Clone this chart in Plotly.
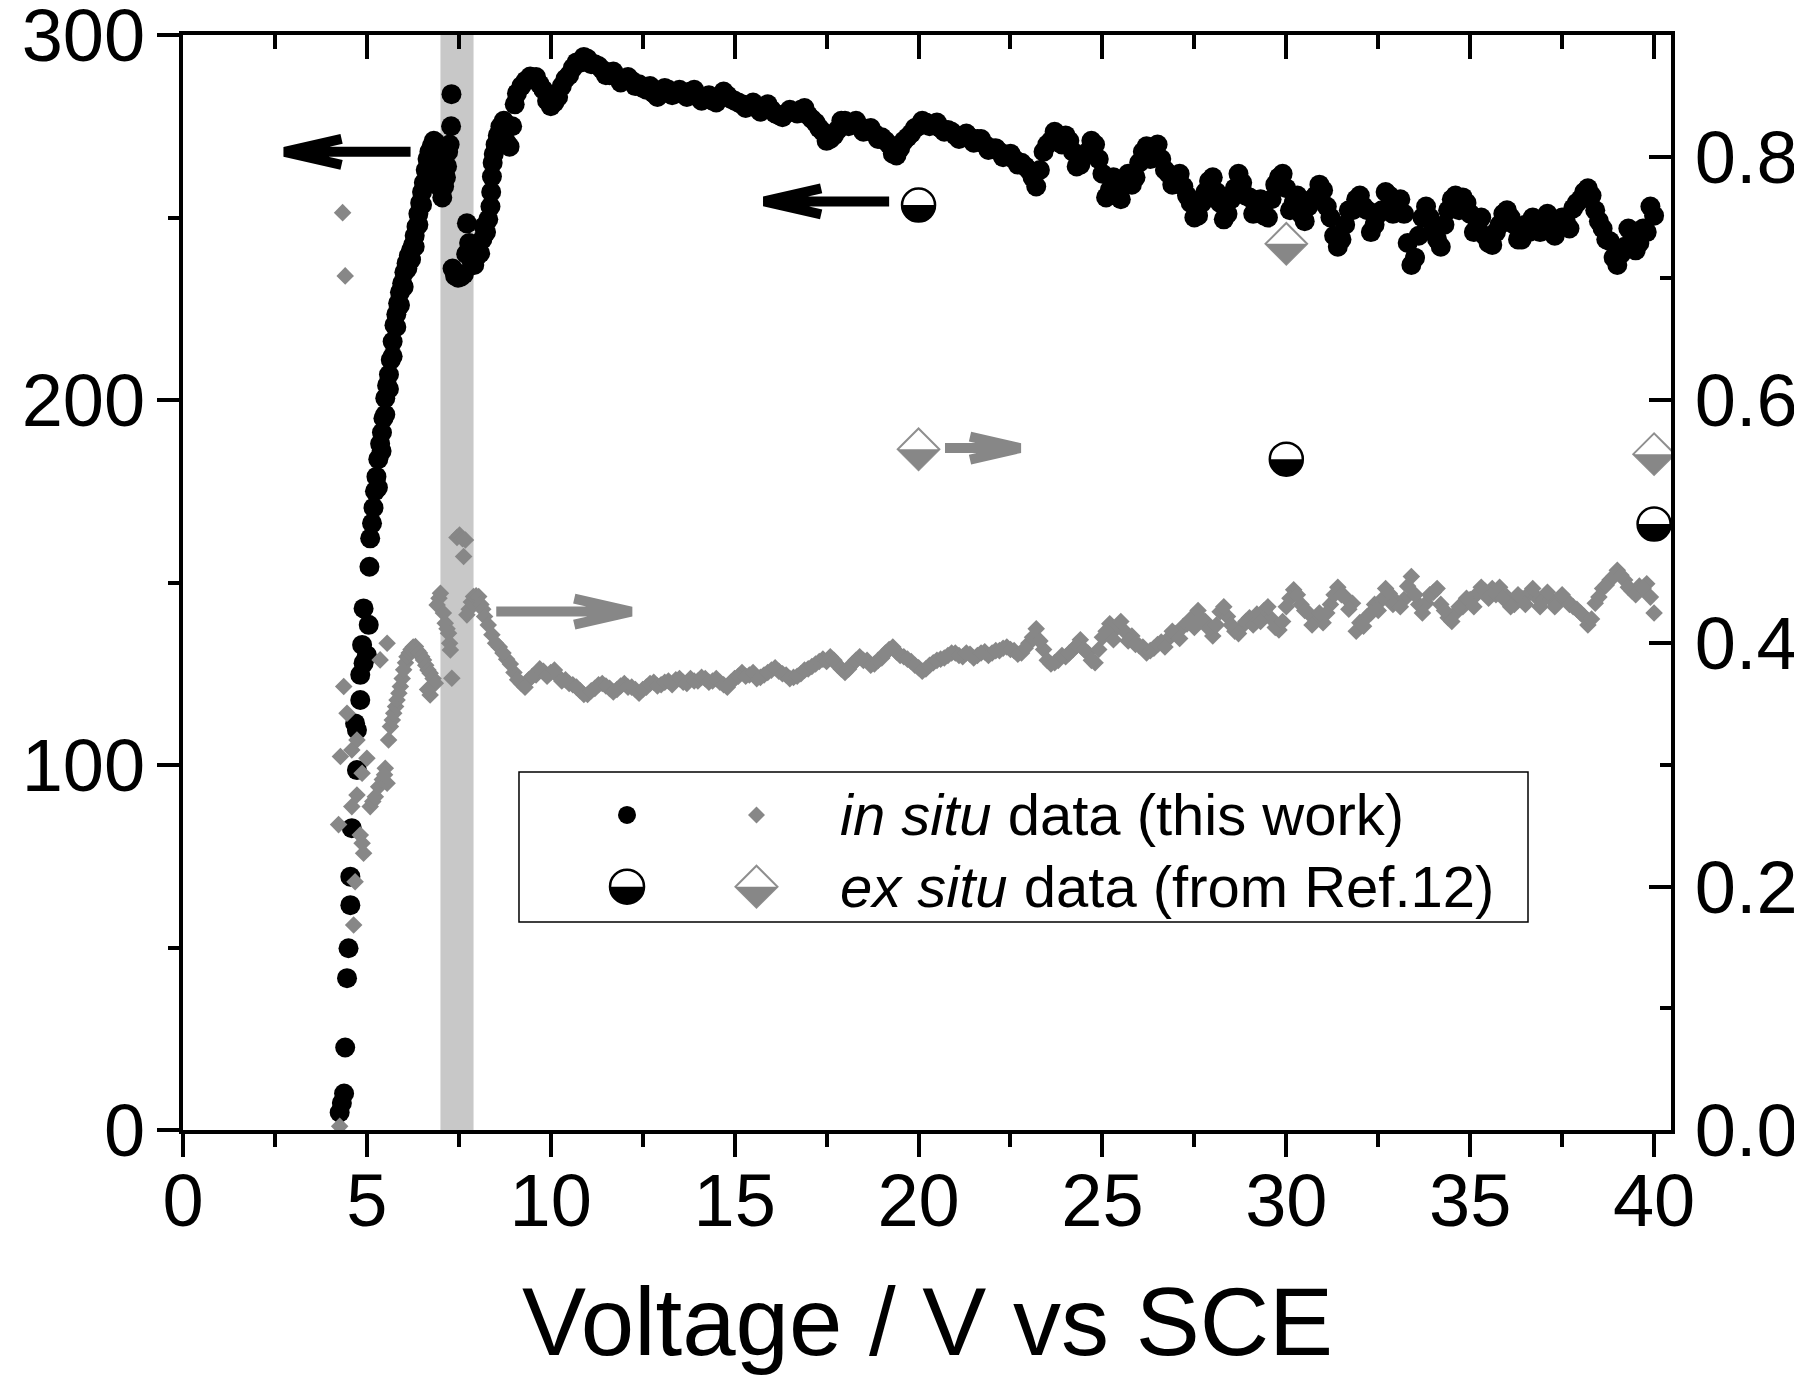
import plotly.graph_objects as go

# ---------------- data ----------------
# in situ, left axis (black circles): rising part + transition
black_rise_v = [4.26, 4.32, 4.38, 4.41, 4.46, 4.50, 4.55, 4.55, 4.59, 4.73,
                4.68, 4.73, 4.82, 4.82, 4.91, 5.00, 4.87, 5.05, 4.91, 5.07,
                5.09, 5.14, 5.18, 5.22, 5.26, 5.31, 5.36, 5.41, 5.45, 5.50,
                5.55, 5.60, 5.65, 5.70, 5.75, 5.80, 5.85, 5.90, 5.96, 6.02,
                6.08, 6.14, 6.20, 6.26, 6.30, 6.35, 6.40, 6.45, 6.50, 6.55,
                6.60, 6.65, 6.70, 6.76, 6.82, 6.87, 6.92, 6.96, 7.00, 7.05,
                6.95, 7.02, 7.10, 7.15, 7.18, 7.21, 7.25, 7.29, 7.30, 7.33,
                7.40, 7.48, 7.56, 7.64, 7.70, 7.72, 7.78, 7.84, 7.92, 8.00,
                8.08, 8.14, 8.18, 8.24, 8.30, 8.36, 8.38, 8.40, 8.42, 8.45,
                8.50, 8.56, 8.63, 8.72, 8.80, 8.88, 8.95, 9.02, 9.08, 9.20,
                9.32, 9.44,
                5.30, 5.40, 5.50, 5.60, 5.70, 5.80, 5.90, 6.00, 6.10, 6.20,
                6.30, 6.40, 6.50, 6.60, 6.70]
black_rise_r = [4.8, 7.4, 10.0, 22.6, 41.6, 49.8, 61.6, 69.4, 82.7, 98.6,
                111.4, 109.6, 117.8, 124.7, 127.9, 130.1, 132.9, 138.4, 142.9, 154.3,
                162.1, 166.2, 170.5, 175.0, 179.0, 183.8, 188.0, 191.1, 195.0, 200.5,
                204.0, 207.0, 211.0, 216.0, 220.5, 223.5, 226.5, 229.5, 232.0, 235.0,
                237.5, 239.5, 241.0, 242.5, 245.0, 247.5, 251.0, 254.0, 257.0, 259.5,
                263.0, 266.0, 268.0, 269.5, 271.0, 270.5, 267.0, 262.0, 258.0, 255.5,
                265.0, 261.0, 258.5, 261.0, 264.0, 268.0, 270.0, 275.0, 283.8, 236.0,
                234.0, 233.5, 233.8, 234.5, 240.0, 248.4, 243.0, 238.4, 237.0, 239.5,
                240.2, 244.0, 247.5, 246.0, 249.5, 253.0, 257.0, 261.2, 265.0, 267.4,
                270.0, 272.5, 274.9, 276.5, 270.5, 269.4, 275.0, 281.0, 284.0, 286.0,
                287.5, 288.6,
                176.0, 186.0, 196.0, 203.0, 212.0, 220.0, 226.0, 231.0, 236.0, 238.5,
                242.0, 248.0, 253.5, 260.0, 265.0]

# in situ, left axis: main part
black_main_v = [9.6, 9.8, 10.0, 10.2, 10.4, 10.6, 10.8, 11.0, 11.2, 11.4,
                11.6, 11.8, 12.0, 12.2, 12.4, 12.6, 12.8, 13.0, 13.2, 13.4,
                13.6, 13.8, 14.0, 14.2, 14.4, 14.6, 14.8, 15.0, 15.2, 15.4,
                15.6, 15.8, 16.0, 16.2, 16.4, 16.6, 16.8, 17.0, 17.2, 17.4,
                17.6, 17.8, 18.0, 18.2, 18.4, 18.6, 18.8, 19.0, 19.2, 19.4,
                19.6, 19.8, 20.0, 20.2, 20.4, 20.6, 20.8, 21.0, 21.2, 21.4,
                21.6, 21.8, 22.0, 22.2, 22.4, 22.6, 22.8, 23.0, 23.2, 23.4,
                23.6, 23.8, 24.0, 24.2, 24.4, 24.6, 24.8, 25.0, 25.2, 25.4,
                25.6, 25.8, 26.0, 26.2, 26.4, 26.6, 26.8, 27.0, 27.2, 27.4,
                27.6, 27.8, 28.0, 28.2, 28.4, 28.6, 28.8, 29.0, 29.2, 29.4,
                29.6, 29.8, 30.0, 30.2, 30.4, 30.6, 30.8, 31.0, 31.2, 31.4,
                31.6, 31.8, 32.0, 32.2, 32.4, 32.6, 32.8, 33.0, 33.2, 33.4,
                33.6, 33.8, 34.0, 34.2, 34.4, 34.6, 34.8, 35.0, 35.2, 35.4,
                35.6, 35.8, 36.0, 36.2, 36.4, 36.6, 36.8, 37.0, 37.2, 37.4,
                37.6, 37.8, 38.0, 38.2, 38.4, 38.6, 38.8, 39.0, 39.2, 39.4,
                39.6, 39.8, 40.0]
black_main_r = [288.5, 285.0, 280.5, 283.0, 288.0, 291.0, 292.5, 293.5, 292.0, 290.5,
                289.0, 288.5, 288.0, 287.5, 286.5, 285.0, 284.0, 284.5, 285.0, 284.0,
                284.0, 284.5, 283.0, 282.5, 282.0, 283.0, 283.5, 282.0, 281.0, 280.5,
                280.0, 280.5, 279.5, 278.0, 278.5, 279.0, 279.5, 278.0, 276.0, 273.5,
                271.5, 274.0, 276.5, 275.5, 275.0, 274.0, 273.0, 272.0, 270.0, 267.0,
                271.0, 273.0, 275.0, 276.0, 275.5, 274.5, 274.0, 272.5, 272.0, 272.0,
                271.5, 270.0, 269.0, 268.0, 267.0, 266.0, 265.0, 263.0, 258.5, 268.0,
                271.0, 272.5, 272.5, 268.0, 264.5, 268.0, 270.0, 262.0, 257.5, 258.0,
                259.5, 259.0, 265.0, 269.5, 268.0, 266.0, 262.0, 260.0, 258.5, 254.0,
                250.5, 257.0, 261.0, 254.0, 251.0, 258.0, 259.5, 255.5, 253.0, 250.5,
                255.0, 261.0, 258.0, 254.0, 251.0, 253.0, 256.0, 257.5, 250.0, 242.0,
                248.0, 252.0, 256.0, 252.0, 248.0, 252.0, 256.0, 254.0, 251.0, 237.0,
                245.0, 253.0, 247.0, 242.0, 252.0, 256.0, 255.5, 251.0, 248.0, 245.0,
                242.5, 248.0, 252.0, 248.0, 244.0, 246.0, 249.0, 249.0, 248.0, 247.5,
                249.0, 252.5, 255.0, 258.0, 252.0, 247.0, 243.5, 237.0, 242.0, 245.5,
                243.0, 246.0, 250.5]

# in situ, left axis: in-between scatter points
black_mid_v = [9.7, 9.9, 10.1, 10.3, 10.5, 10.7, 10.9, 11.1, 11.3, 11.5,
               11.7, 11.9, 12.1, 12.3, 12.5, 12.7, 12.9, 13.1, 13.3, 13.5,
               13.7, 13.9, 14.1, 14.3, 14.5, 14.7, 14.9, 15.1, 15.3, 15.5,
               15.7, 15.9, 16.1, 16.3, 16.5, 16.7, 16.9, 17.1, 17.3, 17.5,
               17.7, 17.9, 18.1, 18.3, 18.5, 18.7, 18.9, 19.1, 19.3, 19.5,
               19.7, 19.9, 20.1, 20.3, 20.5, 20.7, 20.9, 21.1, 21.3, 21.5,
               21.7, 21.9, 22.1, 22.3, 22.5, 22.7, 22.9]
black_mid_r = [286.5, 282.0, 281.5, 286.0, 289.0, 292.5, 294.0, 292.0, 291.5, 289.0,
               290.0, 287.0, 288.5, 286.0, 285.5, 286.0, 283.0, 285.5, 283.5, 285.0,
               283.0, 285.0, 282.0, 283.5, 281.5, 284.5, 282.5, 281.5, 280.0, 281.5,
               279.0, 281.0, 278.5, 277.5, 279.5, 278.5, 280.0, 277.0, 274.5, 271.0,
               272.5, 276.5, 275.0, 276.5, 273.5, 274.5, 271.5, 271.0, 267.5, 269.0,
               272.0, 274.5, 276.5, 275.0, 276.0, 273.5, 273.5, 271.5, 273.0, 270.5,
               271.5, 268.5, 269.0, 266.5, 267.5, 264.5, 264.0]

# in situ, left axis: extra scatter points in the noisy region
black_noise_v = [23.1, 23.3, 23.5, 23.7, 23.9, 24.1, 24.3, 24.5, 24.7, 24.9,
                 25.1, 25.3, 25.5, 25.7, 25.9, 26.1, 26.3, 26.5, 26.7, 26.9,
                 27.1, 27.3, 27.5, 27.7, 27.9, 28.1, 28.3, 28.5, 28.7, 28.9,
                 29.1, 29.3, 29.5, 29.7, 29.9, 30.1, 30.3, 30.5, 30.7, 30.9,
                 31.1, 31.3, 31.5, 31.7, 31.9, 32.1, 32.3, 32.5, 32.7, 32.9,
                 33.1, 33.3, 33.5, 33.7, 33.9, 34.1, 34.3, 34.5, 34.7, 34.9,
                 35.1, 35.3, 35.5, 35.7, 35.9, 36.1, 36.3, 36.5, 36.7, 36.9,
                 37.1, 37.3, 37.5, 37.7, 37.9, 38.1, 38.3, 38.5, 38.7, 38.9,
                 39.1, 39.3, 39.5, 39.7, 39.9]
black_noise_r = [261.0, 263.0, 270.0, 273.5, 270.0, 271.0, 264.0, 267.0, 271.0, 266.0,
                 255.5, 261.0, 255.0, 262.0, 261.0, 268.0, 266.0, 270.0, 263.0, 259.0,
                 262.0, 256.0, 250.0, 254.0, 260.0, 257.0, 249.5, 255.0, 262.0, 256.0,
                 251.0, 255.0, 250.0, 259.0, 262.0, 252.0, 256.0, 249.0, 255.0, 259.0,
                 253.0, 245.0, 244.0, 252.0, 255.0, 253.0, 246.0, 251.0, 257.0, 251.0,
                 255.0, 243.0, 239.0, 250.0, 250.0, 244.0, 248.0, 255.0, 252.0, 254.0,
                 246.0, 250.0, 243.0, 246.0, 251.0, 250.0, 244.0, 248.0, 250.0, 246.0,
                 251.0, 245.0, 250.0, 247.0, 254.0, 257.0, 256.0, 249.0, 244.0, 239.0,
                 240.0, 247.0, 241.0, 247.0, 253.0]

# in situ, right axis (grey diamonds): early part
gray_early_v = [4.26, 4.34, 4.41, 4.23, 4.28, 4.37, 4.46, 4.59, 4.73, 5.00,
                4.87, 4.73, 4.59, 4.82, 4.87, 4.91, 4.68, 4.64, 5.09, 5.16,
                5.23, 5.32, 5.42, 5.50, 5.55, 5.48, 5.36, 5.55, 5.59, 5.64,
                5.69, 5.73, 5.78, 5.82, 5.87, 5.91, 5.96, 6.00, 6.05, 6.09,
                6.15, 6.20, 6.26, 6.32, 6.38, 6.43, 6.49, 6.54, 6.60, 6.66,
                6.72, 6.80, 6.86, 6.72, 6.65, 6.91, 6.96, 7.00, 7.08, 7.13,
                7.18, 7.22, 7.25, 7.27, 7.31, 7.45, 7.52, 7.60, 7.68, 7.63,
                7.72, 7.78, 7.84, 7.90, 7.97, 8.04, 8.10, 8.15]
gray_early_r = [0.003, 0.754, 0.702, 0.251, 0.307, 0.3645, 0.3426, 0.3124, 0.3206, 0.3055,
                0.2932, 0.2754, 0.2658, 0.2425, 0.2357, 0.2275, 0.2041, 0.1685, 0.2658, 0.270,
                0.274, 0.2822, 0.288, 0.2973, 0.285, 0.292, 0.3864, 0.4001, 0.3206, 0.3316,
                0.337, 0.3426, 0.348, 0.3535, 0.359, 0.3645, 0.371, 0.3782, 0.384, 0.389,
                0.392, 0.395, 0.397, 0.3973, 0.394, 0.392, 0.389, 0.3864, 0.382, 0.378,
                0.3754, 0.371, 0.3672, 0.3576, 0.362, 0.4316, 0.437, 0.4412, 0.425, 0.4166,
                0.412, 0.4083, 0.400, 0.3946, 0.3713, 0.487, 0.489, 0.486, 0.485, 0.4713,
                0.4234, 0.428, 0.434, 0.4384, 0.439, 0.4384, 0.432, 0.428]

# in situ, right axis: main part
gray_main_v = [8.2, 8.4, 8.6, 8.8, 9.0, 9.2, 9.4, 9.6, 9.8, 10.0,
               10.2, 10.4, 10.6, 10.8, 11.0, 11.2, 11.4, 11.6, 11.8, 12.0,
               12.2, 12.4, 12.6, 12.8, 13.0, 13.2, 13.4, 13.6, 13.8, 14.0,
               14.2, 14.4, 14.6, 14.8, 15.0, 15.2, 15.4, 15.6, 15.8, 16.0,
               16.2, 16.4, 16.6, 16.8, 17.0, 17.2, 17.4, 17.6, 17.8, 18.0,
               18.2, 18.4, 18.6, 18.8, 19.0, 19.2, 19.4, 19.6, 19.8, 20.0,
               20.2, 20.4, 20.6, 20.8, 21.0, 21.2, 21.4, 21.6, 21.8, 22.0,
               22.2, 22.4, 22.6, 22.8, 23.0, 23.2, 23.4, 23.6, 23.8, 24.0,
               24.2, 24.4, 24.6, 24.8, 25.0, 25.2, 25.4, 25.6, 25.8, 26.0,
               26.2, 26.4, 26.6, 26.8, 27.0, 27.2, 27.4, 27.6, 27.8, 28.0,
               28.2, 28.4, 28.6, 28.8, 29.0, 29.2, 29.4, 29.6, 29.8, 30.0,
               30.2, 30.4, 30.6, 30.8, 31.0, 31.2, 31.4, 31.6, 31.8, 32.0,
               32.2, 32.4, 32.6, 32.8, 33.0, 33.2, 33.4, 33.6, 33.8, 34.0,
               34.2, 34.4, 34.6, 34.8, 35.0, 35.2, 35.4, 35.6, 35.8, 36.0,
               36.2, 36.4, 36.6, 36.8, 37.0, 37.2, 37.4, 37.6, 37.8, 38.0,
               38.2, 38.4, 38.6, 38.8, 39.0, 39.2, 39.4, 39.6, 39.8, 40.0]
gray_main_r = [0.422, 0.407, 0.397, 0.387, 0.376, 0.367, 0.370, 0.374, 0.377, 0.376,
               0.373, 0.370, 0.366, 0.361, 0.358, 0.363, 0.367, 0.363, 0.362, 0.367,
               0.364, 0.359, 0.364, 0.368, 0.366, 0.369, 0.370, 0.368, 0.371, 0.369,
               0.371, 0.369, 0.368, 0.364, 0.371, 0.376, 0.374, 0.371, 0.374, 0.378,
               0.377, 0.374, 0.372, 0.375, 0.379, 0.383, 0.387, 0.389, 0.382, 0.376,
               0.383, 0.389, 0.386, 0.383, 0.388, 0.395, 0.393, 0.389, 0.385, 0.380,
               0.379, 0.384, 0.387, 0.390, 0.392, 0.389, 0.391, 0.390, 0.393, 0.392,
               0.394, 0.397, 0.394, 0.392, 0.400, 0.412, 0.395, 0.383, 0.386, 0.389,
               0.395, 0.403, 0.392, 0.384, 0.405, 0.416, 0.413, 0.410, 0.406, 0.398,
               0.392, 0.396, 0.401, 0.404, 0.408, 0.414, 0.420, 0.427, 0.418, 0.406,
               0.426, 0.422, 0.410, 0.414, 0.421, 0.424, 0.427, 0.420, 0.411, 0.430,
               0.444, 0.432, 0.425, 0.420, 0.417, 0.432, 0.446, 0.438, 0.433, 0.417,
               0.422, 0.432, 0.436, 0.441, 0.434, 0.436, 0.455, 0.432, 0.433, 0.442,
               0.432, 0.421, 0.425, 0.430, 0.436, 0.441, 0.443, 0.445, 0.446, 0.438,
               0.432, 0.437, 0.441, 0.438, 0.436, 0.436, 0.435, 0.436, 0.430, 0.425,
               0.415, 0.433, 0.445, 0.452, 0.460, 0.452, 0.443, 0.447, 0.449, 0.425]

# in situ, right axis: in-between scatter points
gray_mid_v = [8.3, 8.5, 8.7, 8.9, 9.1, 9.3, 9.5, 9.7, 9.9, 10.1,
              10.3, 10.5, 10.7, 10.9, 11.1, 11.3, 11.5, 11.7, 11.9, 12.1,
              12.3, 12.5, 12.7, 12.9, 13.1, 13.3, 13.5, 13.7, 13.9, 14.1,
              14.3, 14.5, 14.7, 14.9, 15.1, 15.3, 15.5, 15.7, 15.9, 16.1,
              16.3, 16.5, 16.7, 16.9, 17.1, 17.3, 17.5, 17.7, 17.9, 18.1,
              18.3, 18.5, 18.7, 18.9, 19.1, 19.3, 19.5, 19.7, 19.9, 20.1,
              20.3, 20.5, 20.7, 20.9, 21.1, 21.3, 21.5, 21.7, 21.9, 22.1,
              22.3, 22.5, 22.7, 22.9]
gray_mid_r = [0.415, 0.400, 0.392, 0.383, 0.370, 0.364, 0.373, 0.379, 0.373, 0.378,
              0.369, 0.367, 0.364, 0.358, 0.361, 0.366, 0.365, 0.360, 0.365, 0.364,
              0.362, 0.362, 0.367, 0.365, 0.368, 0.366, 0.371, 0.367, 0.369, 0.372,
              0.368, 0.371, 0.366, 0.368, 0.373, 0.373, 0.376, 0.372, 0.376, 0.380,
              0.375, 0.371, 0.373, 0.378, 0.381, 0.385, 0.385, 0.386, 0.379, 0.379,
              0.386, 0.386, 0.382, 0.386, 0.392, 0.397, 0.390, 0.387, 0.382, 0.377,
              0.382, 0.386, 0.388, 0.392, 0.390, 0.392, 0.388, 0.392, 0.390, 0.394,
              0.396, 0.395, 0.391, 0.396]

# in situ, right axis: extra scatter points in the noisy region
gray_noise_v = [23.1, 23.3, 23.5, 23.7, 23.9, 24.1, 24.3, 24.5, 24.7, 24.9,
                25.1, 25.3, 25.5, 25.7, 25.9, 26.1, 26.3, 26.5, 26.7, 26.9,
                27.1, 27.3, 27.5, 27.7, 27.9, 28.1, 28.3, 28.5, 28.7, 28.9,
                29.1, 29.3, 29.5, 29.7, 29.9, 30.1, 30.3, 30.5, 30.7, 30.9,
                31.1, 31.3, 31.5, 31.7, 31.9, 32.1, 32.3, 32.5, 32.7, 32.9,
                33.1, 33.3, 33.5, 33.7, 33.9, 34.1, 34.3, 34.5, 34.7, 34.9,
                35.1, 35.3, 35.5, 35.7, 35.9, 36.1, 36.3, 36.5, 36.7, 36.9,
                37.1, 37.3, 37.5, 37.7, 37.9, 38.1, 38.3, 38.5, 38.7, 38.9,
                39.1, 39.3, 39.5, 39.7, 39.9]
gray_noise_r = [0.405, 0.402, 0.386, 0.384, 0.390, 0.392, 0.398, 0.395, 0.386, 0.395,
                0.410, 0.403, 0.418, 0.402, 0.399, 0.397, 0.394, 0.399, 0.397, 0.410,
                0.404, 0.416, 0.413, 0.420, 0.412, 0.415, 0.430, 0.415, 0.408, 0.418,
                0.415, 0.418, 0.430, 0.413, 0.418, 0.437, 0.440, 0.427, 0.415, 0.425,
                0.425, 0.440, 0.440, 0.428, 0.410, 0.414, 0.425, 0.427, 0.445, 0.432,
                0.430, 0.447, 0.440, 0.425, 0.440, 0.445, 0.427, 0.418, 0.430, 0.437,
                0.430, 0.446, 0.437, 0.440, 0.437, 0.430, 0.440, 0.432, 0.445, 0.430,
                0.442, 0.430, 0.440, 0.432, 0.428, 0.422, 0.420, 0.438, 0.448, 0.455,
                0.456, 0.446, 0.440, 0.445, 0.438]

# ex situ data (from Ref.12)
exsitu_v = [20, 30, 40]
exsitu_left = [253.4, 183.8, 166.0]     # half-filled circles, left axis
exsitu_right = [0.5595, 0.7284, 0.5555]  # half-filled diamonds, right axis

x_ticks = [0, 5, 10, 15, 20, 25, 30, 35, 40]
y_ticks = [0, 100, 200, 300]
y2_ticks = [0.0, 0.2, 0.4, 0.6, 0.8]
y2_labels = ["0.0", "0.2", "0.4", "0.6", "0.8"]

# ---------------- styling ----------------
FONT = "Liberation Sans, Arial, Helvetica, sans-serif"
GRAY = "#878787"
BAND = "#c8c8c8"

black_v = black_rise_v + black_main_v + black_mid_v + black_noise_v
black_r = black_rise_r + black_main_r + black_mid_r + black_noise_r
gray_v = gray_early_v + gray_main_v + gray_mid_v + gray_noise_v
gray_r = gray_early_r + gray_main_r + gray_mid_r + gray_noise_r

fig = go.Figure()

fig.add_trace(go.Scatter(x=black_v, y=black_r, mode="markers",
                         marker=dict(symbol="circle", size=20, color="black", line=dict(width=0)),
                         xaxis="x", yaxis="y", showlegend=False, hoverinfo="skip"))
CIRC_SIZE = 33
fig.add_trace(go.Scatter(x=exsitu_v, y=exsitu_left, mode="markers",
                         marker=dict(symbol="circle", size=CIRC_SIZE, color="white",
                                     line=dict(color="black", width=2.5)),
                         xaxis="x", yaxis="y", showlegend=False, hoverinfo="skip"))
fig.add_trace(go.Scatter(x=gray_v, y=gray_r, mode="markers",
                         marker=dict(symbol="diamond", size=13.5, color=GRAY, line=dict(width=0)),
                         xaxis="x", yaxis="y2", showlegend=False, hoverinfo="skip"))
DIA_SIZE = 32
fig.add_trace(go.Scatter(x=exsitu_v, y=exsitu_right, mode="markers",
                         marker=dict(symbol="diamond", size=DIA_SIZE, color="white",
                                     line=dict(color="#8f8f8f", width=2)),
                         xaxis="x", yaxis="y2", showlegend=False, hoverinfo="skip"))
# carrier for the top (inside-tick) axis
fig.add_trace(go.Scatter(x=[None], y=[None], xaxis="x2", yaxis="y", showlegend=False,
                         hoverinfo="skip"))

K = 0.5523


def lower_half_circle(r):
    return (f"M{-r},0 C{-r},{-K*r} {-K*r},{-r} 0,{-r} "
            f"C{K*r},{-r} {r},{-K*r} {r},0 Z")


def lower_half_diamond(rd):
    return f"M{-rd},0 L{rd},0 L0,{-rd} Z"


def diamond(rd):
    return f"M{-rd},0 L0,{rd} L{rd},0 L0,{-rd} Z"


shapes = []
# highlighted voltage band
shapes.append(dict(type="rect", xref="x", yref="paper", x0=7.0, x1=7.9, y0=0, y1=1,
                   fillcolor=BAND, line=dict(width=0), layer="below"))

# lower halves of the ex situ symbols (anchored to the data points)
r_c = CIRC_SIZE / 2
for v, r in zip(exsitu_v, exsitu_left):
    shapes.append(dict(type="path", xref="x", yref="y", xsizemode="pixel", ysizemode="pixel",
                       xanchor=v, yanchor=r, path=lower_half_circle(r_c),
                       fillcolor="black", line=dict(width=0), layer="above"))
r_d = 1.3 * DIA_SIZE / 2
for v, r in zip(exsitu_v, exsitu_right):
    shapes.append(dict(type="path", xref="x", yref="y2", xsizemode="pixel", ysizemode="pixel",
                       xanchor=v, yanchor=r, path=lower_half_diamond(r_d),
                       fillcolor=GRAY, line=dict(width=0), layer="above"))


def arrow(tip_x, tip_y, yref, direction, length, head_len, head_half, color):
    # tip vertex set 3 px inside the visible tip; narrow head keeps a bevelled point
    d = 1 if direction == "left" else -1
    t = 3
    p = (f"M{d*length},0 L{d*t},0 M{d*(t+head_len)},{head_half} L{d*t},0 "
         f"L{d*(t+head_len)},{-head_half}")
    return dict(type="path", xref="x", yref=yref, xsizemode="pixel", ysizemode="pixel",
                xanchor=tip_x, yanchor=tip_y, path=p, line=dict(color=color, width=10),
                layer="above")


shapes.append(arrow(2.68, 268.0, "y", "left", 129, 57, 13, "black"))
shapes.append(arrow(15.72, 254.4, "y", "left", 128, 57, 13, "black"))
shapes.append(arrow(12.27, 0.4261, "y2", "right", 138, 57, 13, GRAY))
shapes.append(arrow(22.84, 0.5605, "y2", "right", 78, 50, 11.5, GRAY))

# ---- hand-made legend ----
LX0, LX1, LY0, LY1 = 0.2258, 0.9039, 0.19, 0.3269
shapes.append(dict(type="rect", xref="paper", yref="paper", x0=LX0, x1=LX1, y0=LY0, y1=LY1,
                   fillcolor="white", line=dict(color="black", width=1.5), layer="above"))
COL1, COL2 = 0.2984, 0.3854
ROW1, ROW2 = 0.2877, 0.2222


def leg(path=None, kind="path", fill="black", lc=None, lw=0, x=0, y=0, r=0):
    base = dict(xref="paper", yref="paper", xsizemode="pixel", ysizemode="pixel",
                xanchor=x, yanchor=y, fillcolor=fill,
                line=dict(color=lc or fill, width=lw), layer="above")
    if kind == "circle":
        base.update(type="circle", x0=-r, x1=r, y0=-r, y1=r)
    else:
        base.update(type="path", path=path)
    return base


shapes.append(leg(kind="circle", fill="black", x=COL1, y=ROW1, r=9))
shapes.append(leg(path=diamond(8.5), fill=GRAY, x=COL2, y=ROW1))
shapes.append(leg(kind="circle", fill="white", lc="black", lw=2.5, x=COL1, y=ROW2, r=17))
shapes.append(leg(path=lower_half_circle(17), fill="black", x=COL1, y=ROW2))
shapes.append(leg(path=diamond(21), fill="white", lc="#8f8f8f", lw=2, x=COL2, y=ROW2))
shapes.append(leg(path=lower_half_diamond(21), fill=GRAY, x=COL2, y=ROW2))

annotations = [
    dict(text="<i>in situ</i> data (this work)", xref="paper", yref="paper",
         x=0.4402, y=ROW1, xanchor="left", yanchor="middle", showarrow=False,
         font=dict(family=FONT, size=58, color="black")),
    dict(text="<i>ex situ</i> data (from Ref.12)", xref="paper", yref="paper",
         x=0.4402, y=ROW2, xanchor="left", yanchor="middle", showarrow=False,
         font=dict(family=FONT, size=58, color="black")),
    dict(text="Voltage / V vs SCE", xref="paper", yref="paper", x=0.5, y=-0.1753,
         xanchor="center", yanchor="middle", showarrow=False,
         font=dict(family=FONT, size=96, color="black")),
]

XR = [0, 40.46]
tickfont = dict(family=FONT, size=74, color="black")
common = dict(showgrid=False, zeroline=False, showline=True, linecolor="black", linewidth=4,
              tickcolor="black", tickwidth=4, automargin=False, ticklabeloverflow="allow",
              layer="below traces")

# the page body adds an 8 px offset, so the figure is 8 px smaller on each side
fig.update_layout(
    template="none",
    width=1794, height=1380,
    margin=dict(l=175, r=131, t=27, b=258, pad=0, autoexpand=False),
    paper_bgcolor="white", plot_bgcolor="white",
    font=dict(family=FONT, color="black"),
    showlegend=False,
    xaxis=dict(range=XR, tickvals=x_ticks, ticks="outside", ticklen=23,
               tickfont=tickfont, ticklabelstandoff=-20,
               minor=dict(dtick=2.5, ticks="outside", ticklen=13, tickwidth=4, tickcolor="black"),
               **common),
    xaxis2=dict(range=XR, overlaying="x", side="top", anchor="y", tickvals=x_ticks,
                ticks="inside", ticklen=24, showticklabels=False,
                minor=dict(dtick=2.5, ticks="inside", ticklen=14, tickwidth=4, tickcolor="black"),
                **common),
    yaxis=dict(range=[0, 300], tickvals=y_ticks, ticks="outside", ticklen=22,
               tickfont=tickfont, ticklabelstandoff=-3,
               minor=dict(dtick=50, ticks="outside", ticklen=11, tickwidth=4, tickcolor="black"),
               **common),
    yaxis2=dict(range=[0, 0.9], overlaying="y", side="right", anchor="x", tickvals=y2_ticks,
                ticktext=y2_labels, ticks="inside", ticklen=22, tickfont=tickfont,
                ticklabelstandoff=5,
                minor=dict(dtick=0.1, ticks="inside", ticklen=11, tickwidth=4, tickcolor="black"),
                **common),
    shapes=shapes,
    annotations=annotations,
)

fig.write_html("out.html")
